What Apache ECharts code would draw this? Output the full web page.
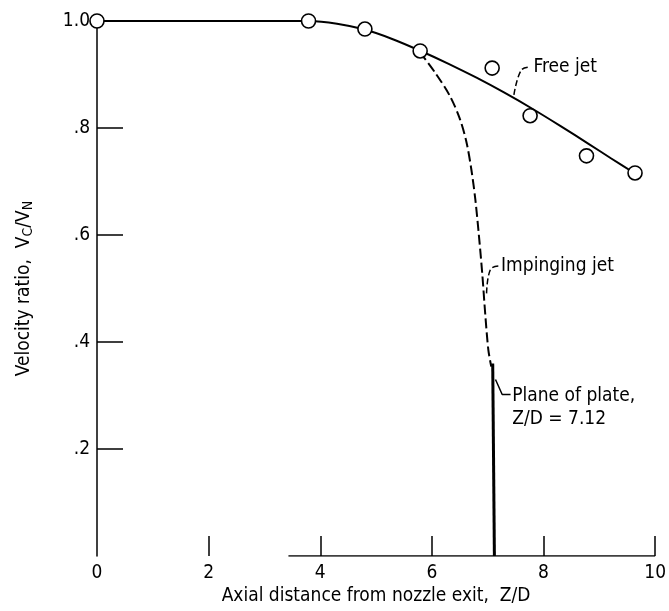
<!DOCTYPE html>
<html>
<head>
<meta charset="utf-8">
<script src="https://cdn.jsdelivr.net/npm/echarts@6/dist/echarts.min.js"></script>
<style>html,body{margin:0;padding:0;background:#fff}#c{width:669px;height:611px}</style>
</head>
<body>
<div id="c"></div>
<script>
// ---- data ----
const xTickValues = [2, 4, 6, 8, 10];
const yTickValues = [0.2, 0.4, 0.6, 0.8];
// measured free-jet points (circles)
const freeJetZ = [0, 3.79, 4.80, 5.79, 7.08, 7.76, 8.77, 9.64];
const freeJetV = [1.0, 1.0, 0.985, 0.944, 0.912, 0.823, 0.748, 0.716];
// faired free-jet curve
const freeCurveZ = [0, 1, 2, 3, 3.8, 4.3, 4.8, 5.3, 5.8, 6.3, 6.8, 7.3, 7.8, 8.3, 8.8, 9.2, 9.64];
const freeCurveV = [1, 1, 1, 1, 1.0, 0.995, 0.984, 0.966, 0.944, 0.920, 0.894, 0.866, 0.836, 0.804, 0.771, 0.744, 0.715];
// impinging-jet curve (dashed)
const impZ = [5.783, 6.068, 6.317, 6.495, 6.619, 6.708, 6.779, 6.842, 6.904, 6.957, 7.011, 7.064];
const impV = [0.942, 0.902, 0.861, 0.819, 0.774, 0.722, 0.666, 0.600, 0.526, 0.451, 0.386, 0.354];
// plane of plate
const plateZ = [7.09, 7.12];
const plateV = [0.36, 0.0];
// partial x baseline
const baseZ = [3.43, 10];
const baseV = [0, 0];
// annotation leaders and labels
const freeLeadZ = [7.47, 7.60, 7.76];
const freeLeadV = [0.862, 0.908, 0.914];
const impLeadZ = [6.98, 7.05, 7.20];
const impLeadV = [0.491, 0.536, 0.542];
const plateLeadZ = [7.14, 7.26, 7.41];
const plateLeadV = [0.330, 0.302, 0.302];
const labelTexts = ['Free jet', 'Impinging jet', 'Plane of plate,\nZ/D = 7.12'];
const labelZ = [7.82, 7.24, 7.44];
const labelV = [0.914, 0.542, 0.277];

const zip = (a, b) => a.map((v, i) => [v, b[i]]);
const FONT = '"DejaVu Sans Condensed", "Liberation Sans", sans-serif';

const chart = echarts.init(document.getElementById('c'));
chart.setOption({
  animation: false,
  backgroundColor: '#fff',
  grid: { left: 97, right: 10, top: 21, bottom: 54 },
  xAxis: {
    type: 'value', min: 0, max: 10, interval: 2,
    axisLine: { show: false },
    axisTick: { show: true, inside: true, length: 20, lineStyle: { color: '#000', width: 1.5 }, customValues: xTickValues },
    axisLabel: { color: '#000', fontSize: 19, fontFamily: FONT, margin: 7 },
    splitLine: { show: false },
    name: 'Axial distance from nozzle exit,  Z/D',
    nameLocation: 'middle', nameGap: 29,
    nameTextStyle: { color: '#000', fontSize: 19, fontFamily: FONT }
  },
  yAxis: {
    type: 'value', min: 0, max: 1, interval: 0.2,
    axisLine: { show: true, lineStyle: { color: '#000', width: 1.5 } },
    axisTick: { show: true, inside: true, length: 26, lineStyle: { color: '#000', width: 1.5 }, customValues: yTickValues },
    axisLabel: {
      color: '#000', fontSize: 19, fontFamily: FONT, margin: 7,
      formatter: v => v === 0 ? '' : (Math.abs(v - 1) < 1e-9 ? '1.0' : '.' + Math.round(v * 10))
    },
    splitLine: { show: false },
    name: 'Velocity ratio,  V{s|C}/V{s|N}',
    nameLocation: 'middle', nameGap: 62,
    nameTextStyle: {
      color: '#000', fontSize: 19, fontFamily: FONT,
      rich: { s: { fontSize: 14, fontFamily: FONT, color: '#000', verticalAlign: 'bottom', padding: [8, 0, 0, 0] } }
    }
  },
  series: [
    { type: 'line', data: zip(baseZ, baseV), symbol: 'none', lineStyle: { color: '#000', width: 1.5 }, silent: true },
    { type: 'line', data: zip(freeCurveZ, freeCurveV), symbol: 'none', smooth: 0.25, lineStyle: { color: '#000', width: 2 }, silent: true },
    { type: 'line', data: zip(impZ, impV), symbol: 'none', smooth: 0.3, lineStyle: { color: '#000', width: 2, type: [10, 4] }, silent: true },
    { type: 'line', data: zip(plateZ, plateV), symbol: 'none', lineStyle: { color: '#000', width: 3 }, silent: true },
    { type: 'line', data: zip(freeLeadZ, freeLeadV), symbol: 'none', smooth: 0.4, lineStyle: { color: '#000', width: 1.5, type: [6, 3] }, silent: true },
    { type: 'line', data: zip(impLeadZ, impLeadV), symbol: 'none', smooth: 0.4, lineStyle: { color: '#000', width: 1.5, type: [6, 3] }, silent: true },
    { type: 'line', data: zip(plateLeadZ, plateLeadV), symbol: 'none', lineStyle: { color: '#000', width: 1.5 }, silent: true },
    {
      type: 'scatter', data: zip(freeJetZ, freeJetV), symbol: 'circle', symbolSize: 14,
      itemStyle: { color: '#fff', borderColor: '#000', borderWidth: 1.6, opacity: 1 }, z: 5, silent: true
    },
    {
      type: 'scatter', symbolSize: 0, silent: true,
      itemStyle: { opacity: 1 },
      data: labelTexts.map((t, i) => ({ value: [labelZ[i], labelV[i]], name: t })),
      label: {
        show: true, position: 'right', distance: 0, formatter: p => p.name,
        color: '#000', fontSize: 19, fontFamily: FONT, lineHeight: 23, align: 'left'
      }
    }
  ]
});
</script>
</body>
</html>
